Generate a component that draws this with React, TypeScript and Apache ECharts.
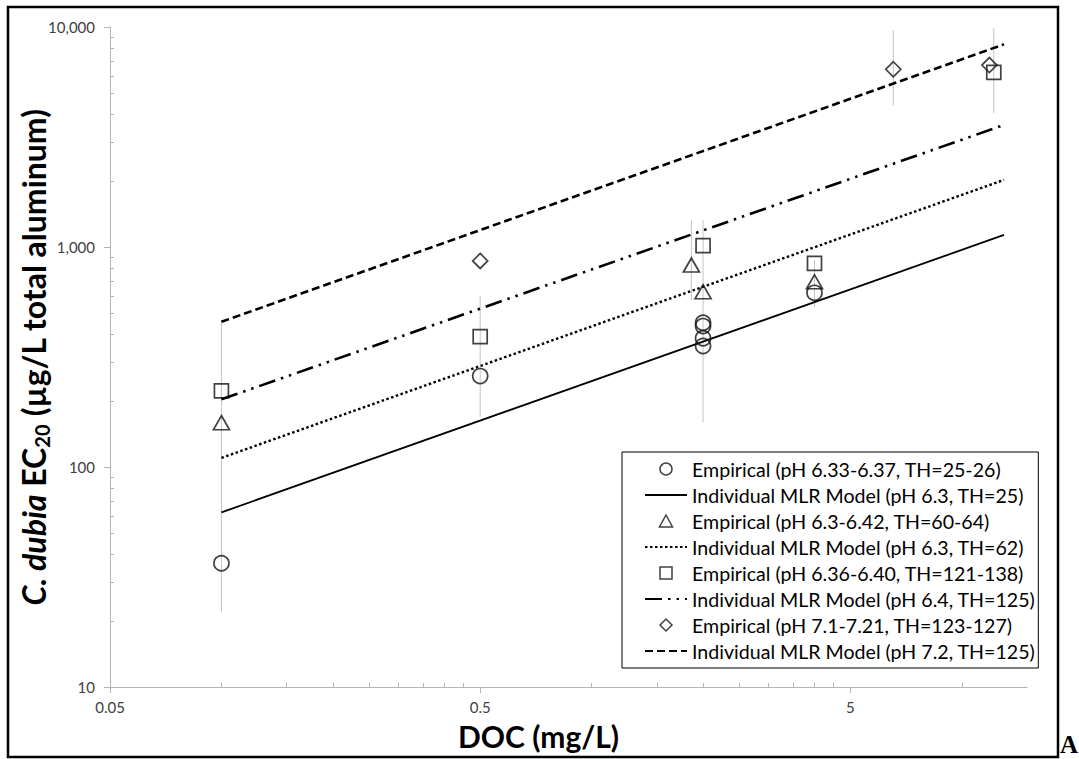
import React, { useEffect, useRef } from 'react';
import * as echarts from 'echarts';

const FONT = 'Lato, "Open Sans", sans-serif';

// axis ticks
const xMajorTicks = [0.05, 0.5, 5];
const xMinorTicks = [0.1, 0.15, 0.2, 0.25, 0.3, 0.35, 0.4, 0.45, 1, 1.5, 2, 2.5, 3, 3.5, 4, 4.5, 10];
const yMajorTicks = [10, 100, 1000, 10000];
const yMinorTicks = [20, 30, 40, 50, 60, 70, 80, 90, 200, 300, 400, 500, 600, 700, 800, 900, 2000, 3000, 4000, 5000, 6000, 7000, 8000, 9000];

// series names
const names = [
  'Empirical (pH 6.33-6.37, TH=25-26)',
  'Individual MLR Model (pH 6.3, TH=25)',
  'Empirical (pH 6.3-6.42, TH=60-64)',
  'Individual MLR Model (pH 6.3, TH=62)',
  'Empirical (pH 6.36-6.40, TH=121-138)',
  'Individual MLR Model (pH 6.4, TH=125)',
  'Empirical (pH 7.1-7.21, TH=123-127)',
  'Individual MLR Model (pH 7.2, TH=125)',
];
// legend icons: null = series' own (line), otherwise symbol
const legendIcons = [
  'circle',
  null,
  'path://M6,0L12,11L0,11Z',
  null,
  'path://M0,0L11,0L11,11L0,11Z',
  null,
  'path://M6,0L12,6L6,12L0,6Z',
  null,
];

// empirical points [DOC, EC20]
const circlePts = [[0.1, 36.5], [0.5, 259], [2, 453], [2, 437], [2, 385], [2, 355], [4, 619]];
const trianglePts = [[0.1, 159], [1.86, 828], [2, 626], [4, 695]];
const squarePts = [[0.1, 222], [0.5, 391], [2, 1014], [4, 843], [12.2, 6223]];
const diamondPts = [[0.5, 864], [6.53, 6427], [11.87, 6714]];

// model lines [DOC, EC20]
const modelTH25 = [[0.1, 62.2], [13, 1135]];
const modelTH62 = [[0.1, 110], [13, 2018]];
const modelPH64 = [[0.1, 203], [13, 3588]];
const modelPH72 = [[0.1, 457], [13, 8340]];

// error bars [DOC, low, high]
const errorBars = [
  [0.1, 22, 466],
  [0.5, 169, 600],
  [1.86, 574, 1327],
  [2, 160, 1327],
  [4, 533, 873],
  [6.53, 4418, 9690],
  [12.2, 4055, 9900],
];

const MARK = '#111';
const AXIS = '#b3b3b3';

function scatter(name: string, data: number[][], symbol: string, size: any) {
  return {
    type: 'scatter',
    name,
    data,
    symbol,
    symbolSize: size,
    itemStyle: { color: 'rgba(255,255,255,0)', borderColor: MARK, borderWidth: 1.7 },
    z: 5,
  };
}

function line(name: string, data: number[][], type: any, width: number) {
  return {
    type: 'line',
    name,
    data,
    symbol: 'none',
    lineStyle: { color: '#000', width, type, cap: 'butt' },
    itemStyle: { color: 'rgba(0,0,0,0)', borderWidth: 0 },
    z: 4,
  };
}

export default function App() {
  const ref = useRef<HTMLDivElement>(null);
  useEffect(() => {
    const chart = echarts.init(ref.current!, null, { renderer: 'svg' });
    const option: any = {
      animation: false,
      backgroundColor: '#fff',
      grid: { left: 110, right: 52, top: 27, bottom: 72, containLabel: false, outerBoundsMode: 'none' },
      xAxis: [
        {
          type: 'log', logBase: 10, min: 0.05, max: 15, position: 'bottom',
          axisLine: { show: true, lineStyle: { color: AXIS, width: 1 } },
          axisTick: { show: true, customValues: xMajorTicks, length: 6, lineStyle: { color: AXIS } },
          axisLabel: {
            customValues: xMajorTicks, formatter: (v: number) => String(v),
            fontFamily: FONT, fontSize: 15, color: '#404040', margin: 12,
          },
          splitLine: { show: false },
          name: 'DOC (mg/L)', nameLocation: 'middle', nameGap: 34, nameMoveOverlap: false,
          nameTextStyle: { fontFamily: FONT, fontSize: 30, fontWeight: 'bold', color: '#000', padding: [0, 60, 0, 0] },
        },
        {
          type: 'log', logBase: 10, min: 0.05, max: 15, position: 'bottom',
          axisLine: { show: false },
          axisTick: { show: true, customValues: xMinorTicks, inside: true, length: 4, lineStyle: { color: AXIS } },
          axisLabel: { show: false },
          splitLine: { show: false },
        },
      ],
      yAxis: [
        {
          type: 'log', logBase: 10, min: 10, max: 10000, position: 'left',
          axisLine: { show: true, lineStyle: { color: AXIS, width: 1 } },
          axisTick: { show: true, customValues: yMajorTicks, length: 6, lineStyle: { color: AXIS } },
          axisLabel: {
            customValues: yMajorTicks, formatter: (v: number) => Math.round(v).toLocaleString('en-US'),
            fontFamily: FONT, fontSize: 15, color: '#404040', margin: 15,
          },
          splitLine: { show: false },
          name: '{i|C. dubia} EC{s|20} (µg/L total aluminum)',
          nameLocation: 'middle', nameGap: 58, nameMoveOverlap: false,
          nameTextStyle: {
            fontFamily: FONT, fontSize: 32, fontWeight: 'bold', color: '#000',
            rich: {
              i: { fontFamily: FONT, fontSize: 32, fontWeight: 'bold', fontStyle: 'italic', color: '#000' },
              s: { fontFamily: FONT, fontSize: 20, fontWeight: 'bold', color: '#000', padding: [18, 0, 0, 0] },
            },
          },
        },
        {
          type: 'log', logBase: 10, min: 10, max: 10000, position: 'left',
          axisLine: { show: false },
          axisTick: { show: true, customValues: yMinorTicks, inside: true, length: 4, lineStyle: { color: AXIS } },
          axisLabel: { show: false },
          splitLine: { show: false },
        },
      ],
      legend: {
        data: names.map((n, i) => (legendIcons[i] === null
          ? { name: n, itemStyle: { color: 'rgba(0,0,0,0)', borderWidth: 0, borderColor: 'rgba(0,0,0,0)' } }
          : { name: n, icon: legendIcons[i] })),
        orient: 'vertical',
        left: 622, top: 452,
        padding: [7, 3, 7, 22],
        itemWidth: 42, itemHeight: 12, itemGap: 6,
        symbolKeepAspect: true,
        borderColor: '#000', borderWidth: 1, backgroundColor: '#fff',
        itemStyle: { borderWidth: 1.5 },
        textStyle: { fontFamily: FONT, fontSize: 19.6, color: '#000' },
      },
      graphic: [
        { type: 'rect', shape: { x: 8, y: 7, width: 1050, height: 750 }, style: { fill: 'none', stroke: '#000', lineWidth: 2.5 }, silent: true, z: 100 },
        { type: 'text', x: 1060, y: 757, style: { text: 'A', fontFamily: '"Liberation Serif", serif', fontSize: 25, fontWeight: 'bold', fill: '#000', verticalAlign: 'bottom' }, silent: true },
      ],
      series: [
        {
          type: 'custom',
          name: 'errorbars',
          data: errorBars,
          encode: { x: 0, y: [1, 2] },
          silent: true,
          z: 1,
          renderItem: (params: any, api: any) => {
            const p1 = api.coord([api.value(0), api.value(1)]);
            const p2 = api.coord([api.value(0), api.value(2)]);
            return {
              type: 'line',
              shape: { x1: p1[0], y1: p1[1], x2: p2[0], y2: p2[1] },
              style: { stroke: '#c4c4c4', lineWidth: 1 },
            };
          },
        },
        scatter(names[0], circlePts, 'circle', 15),
        line(names[1], modelTH25, 'solid', 1.8),
        scatter(names[2], trianglePts, 'triangle', [16, 14]),
        line(names[3], modelTH62, [2.5, 2.5], 2.4),
        scatter(names[4], squarePts, 'rect', 14),
        line(names[5], modelPH64, [17, 6, 2.5, 6, 2.5, 6], 2.6),
        scatter(names[6], diamondPts, 'diamond', [15, 15]),
        line(names[7], modelPH72, [8, 4], 2.6),
      ],
    };
    chart.setOption(option);
    return () => chart.dispose();
  }, []);
  return (
    <div
      ref={ref}
      style={{ position: 'fixed', left: 0, top: 0, width: 1079, height: 759, background: '#fff' }}
    />
  );
}
